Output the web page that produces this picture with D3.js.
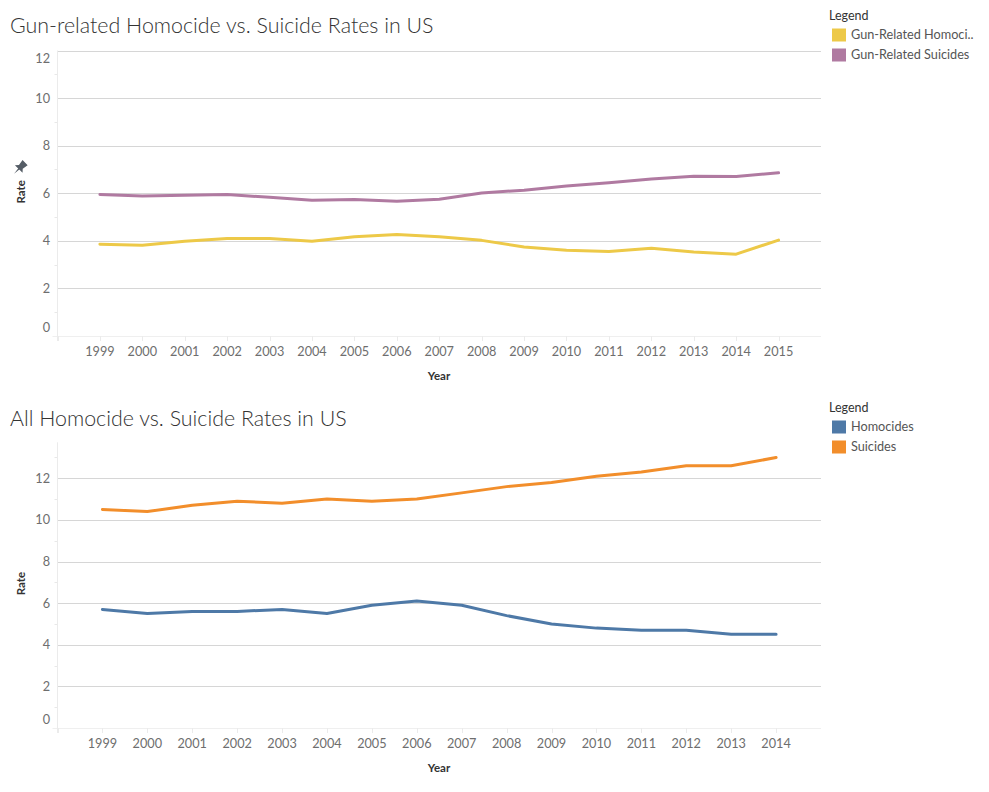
<!DOCTYPE html>
<html>
<head>
<meta charset="utf-8">
<script src="https://cdn.jsdelivr.net/npm/d3@7"></script>
<style>
  body { margin: 0; background: #fff; }
  svg { display: block; font-family: Lato, "Open Sans", sans-serif; }
</style>
</head>
<body>
<svg id="chart" width="989" height="792"></svg>
<script>
// Top chart: gun-related rates, 1999-2015
const gunYears = d3.range(1999, 2016)
const gunHomicides = [3.86, 3.81, 3.98, 4.10, 4.10, 3.98, 4.17, 4.27, 4.17, 4.02, 3.74, 3.60, 3.55, 3.69, 3.53, 3.44, 4.03]
const gunSuicides = [5.95, 5.88, 5.92, 5.95, 5.83, 5.71, 5.74, 5.66, 5.75, 6.01, 6.13, 6.30, 6.44, 6.60, 6.71, 6.70, 6.86]

// Bottom chart: all homicides and suicides, 1999-2014
const allYears = d3.range(1999, 2015)
const allHomicides = [5.7, 5.5, 5.6, 5.6, 5.7, 5.5, 5.9, 6.1, 5.9, 5.4, 5.0, 4.8, 4.7, 4.7, 4.5, 4.5]
const allSuicides = [10.5, 10.4, 10.7, 10.9, 10.8, 11.0, 10.9, 11.0, 11.3, 11.6, 11.8, 12.1, 12.3, 12.6, 12.6, 13.0]

const yTicks = [0, 2, 4, 6, 8, 10, 12]

const svg = d3.select("#chart")

const drawPanel = (opts) => {
  const { top, bottom, yMax, xDomain, title, titleY, legendY, series, pin } = opts
  const left = 57.5, right = 821

  const x = d3.scaleLinear().domain(xDomain).range([left, right])
  const y = d3.scaleLinear().domain([0, yMax]).range([bottom, top])

  const g = svg.append("g")

  // title
  g.append("text")
    .attr("x", 10).attr("y", titleY)
    .attr("font-size", 21.4).attr("font-weight", 300).attr("fill", "#333")
    .text(title)

  // minor ticks on the left of the axis (odd values)
  g.append("g").selectAll("line")
    .data(d3.range(1, Math.floor(yMax) + 1, 2))
    .join("line")
    .attr("x1", left - 3).attr("x2", left)
    .attr("y1", d => Math.round(y(d)) + 0.5).attr("y2", d => Math.round(y(d)) + 0.5)
    .attr("stroke", "#e8e8e8")

  // grid lines
  g.append("g").selectAll("line")
    .data(yTicks.filter(d => d > 0 && d <= yMax))
    .join("line")
    .attr("x1", left).attr("x2", right)
    .attr("y1", d => Math.round(y(d)) + 0.5).attr("y2", d => Math.round(y(d)) + 0.5)
    .attr("stroke", "#d6d6d6")

  // zero line and the axis line
  g.append("line")
    .attr("x1", left - 5).attr("x2", right)
    .attr("y1", Math.round(y(0)) + 0.5).attr("y2", Math.round(y(0)) + 0.5)
    .attr("stroke", "#efefef")
  g.append("line")
    .attr("x1", left).attr("x2", left)
    .attr("y1", top).attr("y2", bottom + 5)
    .attr("stroke", "#ebebeb")

  // y tick labels, edge labels pushed inside like Tableau does
  g.append("g").selectAll("text")
    .data(yTicks.filter(d => d <= yMax))
    .join("text")
    .attr("x", 50)
    .attr("y", d => {
      let py = y(d)
      if (d === 0) py -= 8
      if (d === yMax) py += 8
      return py
    })
    .attr("dy", "0.35em")
    .attr("text-anchor", "end")
    .attr("font-size", 12.7).attr("fill", "#6e6e6e")
    .text(d => d)

  // x ticks and labels
  const years = series[0].years
  g.append("g").selectAll("line")
    .data([xDomain[0]].concat(years))
    .join("line")
    .attr("x1", d => Math.round(x(d)) + 0.5).attr("x2", d => Math.round(x(d)) + 0.5)
    .attr("y1", bottom).attr("y2", bottom + 5)
    .attr("stroke", "#ebebeb")
  g.append("g").selectAll("text")
    .data(years)
    .join("text")
    .attr("x", d => x(d))
    .attr("y", bottom + 16)
    .attr("dy", "0.35em")
    .attr("text-anchor", "middle")
    .attr("font-size", 12.7).attr("fill", "#6e6e6e")
    .text(d => d)

  // axis titles
  g.append("text")
    .attr("x", 439).attr("y", bottom + 40)
    .attr("dy", "0.35em")
    .attr("text-anchor", "middle")
    .attr("font-size", 11.5).attr("font-weight", "bold").attr("fill", "#333")
    .text("Year")
  const rateY = (top + bottom) / 2 - 1.5
  g.append("text")
    .attr("transform", `translate(21,${rateY}) rotate(-90)`)
    .attr("dy", "0.35em")
    .attr("text-anchor", "middle")
    .attr("font-size", 11.5).attr("font-weight", "bold").attr("fill", "#333")
    .text("Rate")

  if (pin) {
    // little pushpin glyph above the axis title
    g.append("path")
      .attr("transform", `translate(20,${rateY - 24}) rotate(45) scale(1.2)`)
      .attr("d", "M-3,-6 L3,-6 L2.2,-1 L4.5,1.5 L-4.5,1.5 L-2.2,-1 Z M-0.7,1.5 L0.7,1.5 L0,7 Z")
      .attr("fill", "#555d66")
  }

  // lines
  const line = d3.line()
    .x(d => x(d[0]))
    .y(d => y(d[1]))
  g.append("g").selectAll("path")
    .data(series)
    .join("path")
    .attr("fill", "none")
    .attr("stroke", d => d.color)
    .attr("stroke-width", 3)
    .attr("stroke-linejoin", "round")
    .attr("stroke-linecap", "round")
    .attr("d", d => line(d.years.map((yr, i) => [yr, d.values[i]])))

  // legend
  const lg = g.append("g").attr("transform", `translate(829,${legendY})`)
  lg.append("text")
    .attr("x", 0).attr("y", 0).attr("dy", "0.35em")
    .attr("font-size", 12.5).attr("fill", "#333")
    .text("Legend")
  const item = lg.selectAll("g.item")
    .data(series)
    .join("g")
    .attr("transform", (d, i) => `translate(0,${19 + i * 20})`)
  item.append("rect")
    .attr("x", 3).attr("y", -6.5)
    .attr("width", 14).attr("height", 13)
    .attr("fill", d => d.color)
  item.append("text")
    .attr("x", 22).attr("y", 0).attr("dy", "0.35em")
    .attr("font-size", 12.7).attr("fill", "#555")
    .text(d => d.label)
}

drawPanel({
  top: 50.5, bottom: 336, yMax: 12, xDomain: [1998, 2016],
  title: "Gun-related Homocide vs. Suicide Rates in US", titleY: 33, legendY: 16, pin: true,
  series: [
    { label: "Gun-Related Homoci..", color: "#edc948", years: gunYears, values: gunHomicides },
    { label: "Gun-Related Suicides", color: "#b07aa1", years: gunYears, values: gunSuicides }
  ]
})

drawPanel({
  top: 442.3, bottom: 728, yMax: 13.73, xDomain: [1998, 2015],
  title: "All Homocide vs. Suicide Rates in US", titleY: 426, legendY: 408, pin: false,
  series: [
    { label: "Homocides", color: "#4e79a7", years: allYears, values: allHomicides },
    { label: "Suicides", color: "#f28e2b", years: allYears, values: allSuicides }
  ]
})
</script>
</body>
</html>
